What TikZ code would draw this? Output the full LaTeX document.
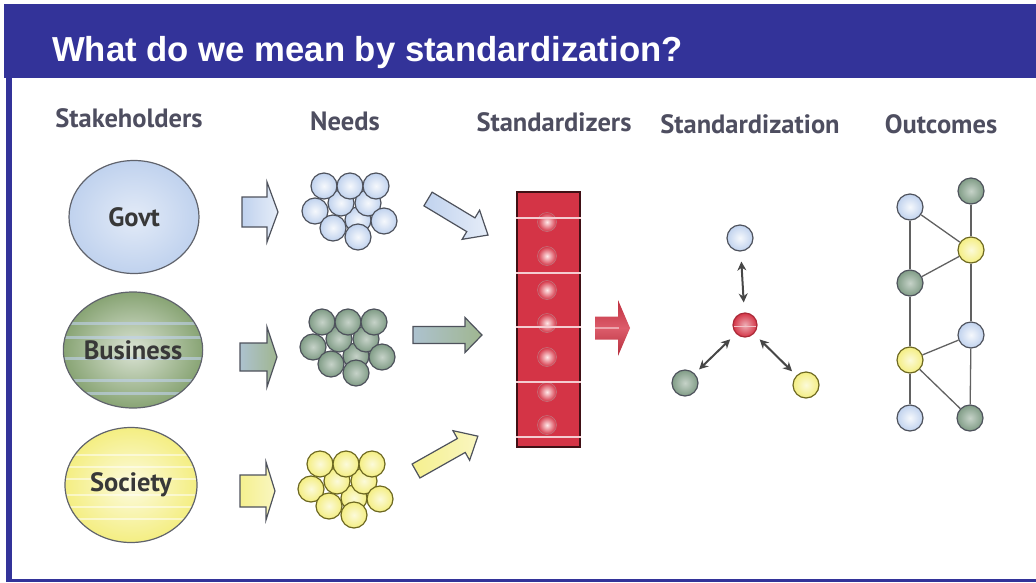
\documentclass[tikz,border=0pt]{standalone}
\usepackage{fontspec}
\setmainfont{Liberation Sans}
\newfontfamily\hfont{PT Sans}
\usetikzlibrary{shapes.geometric,arrows.meta,calc}
\definecolor{band}{RGB}{51,51,153}
\definecolor{hdr}{RGB}{78,78,96}
\definecolor{gblue}{RGB}{192,210,238}
\definecolor{bgreen}{RGB}{128,156,134}
\definecolor{bizgreen}{RGB}{136,164,116}
\definecolor{syellow}{RGB}{244,238,130}
\definecolor{sred}{RGB}{212,52,70}
\definecolor{edgec}{RGB}{78,82,92}
\newcommand\barrow[8]{\path[#1,shift={(#2,#3)},rotate=#4] (0,-#6) -- ({#5-#7},-#6) -- ({#5-#7},-#8) -- (#5,0) -- ({#5-#7},#8) -- ({#5-#7},#6) -- (0,#6) -- cycle;}
\newcommand\needcluster[4]{%
  \foreach \dx/\dy [count=\i] in {8/8,-9/-9,18/-9,-26/-26,0/-26,26/-26,-35/-1,34/9,-17/16,8/25}
    \node[#4] (#1-\i) at ({#2+\dx},{#3+\dy}) {};}
\begin{document}
\begin{tikzpicture}[x=1pt,y=-1pt,
  hdrtext/.style={font=\hfont\bfseries\fontsize{26.5}{30}\selectfont, text=hdr, anchor=base, inner sep=0pt},
  stake/.style={ellipse, draw=edgec!90, line width=1.2pt, inner sep=0pt,
     font=\hfont\bfseries\fontsize{26.5}{30}\selectfont, text=black!78},
  ball/.style={circle, draw=edgec, line width=1.2pt, minimum size=26pt, inner sep=0pt},
  bblue/.style={ball, inner color=white!85!gblue, outer color=gblue},
  bgrn/.style={ball, inner color=bgreen!45!white, outer color=bgreen},
  byel/.style={ball, draw=olive!70!black, inner color=white!70!syellow, outer color=syellow},
  bred/.style={ball, draw=sred!80!black, inner color=sred!40!white, outer color=sred, minimum size=24pt},
  arrowb/.style={draw=edgec, line width=1.2pt, left color=gblue, right color=white!60!gblue},
  arrowg/.style={draw=edgec, line width=1.2pt, left color=gblue!70!bgreen, right color=bizgreen!80!white},
  arrowy/.style={draw=edgec, line width=1.2pt, left color=syellow!90!white, right color=white!50!syellow},
  dbl/.style={{Stealth[length=9pt,width=9pt]}-{Stealth[length=9pt,width=9pt]}, line width=2pt, draw=black!72},
  link/.style={line width=1.3pt, draw=black!62},
  reddot/.style={circle, minimum size=19pt, inner sep=0pt, draw=sred!70!black!60, line width=0.5pt, inner color=white!65!pink, outer color=sred}
]
\useasboundingbox (0,0) rectangle (1036,582);
% frame
\fill[band] (4,4) rectangle (1036,78);
\fill[band] (6,78) rectangle (12,582);
\fill[band] (6,579) rectangle (1036,582);
\node[anchor=base west, inner sep=0pt, text=white, font=\bfseries\fontsize{34.7}{40}\selectfont] (title) at (52,61) {What do we mean by standardization?};
% headers
\node[hdrtext] (h1) at (129,127) {Stakeholders};
\node[hdrtext] (h2) at (345,130) {Needs};
\node[hdrtext] (h3) at (554,131) {Standardizers};
\node[hdrtext] (h4) at (750,133) {Standardization};
\node[hdrtext] (h5) at (941,133) {Outcomes};
% stakeholders
\node[stake, minimum width=130pt, minimum height=113pt, inner color=white!55!gblue, outer color=gblue] (govt) at (134,217) {Govt};
\node[stake, minimum width=129pt, minimum height=116pt, inner color=bizgreen!30!white, outer color=bizgreen,
  path picture={\foreach \d in {-27,-13,8,30,43}
     \draw[gblue, line width=3pt, opacity=0.6] ($(path picture bounding box.center)+(-70,\d)$) -- ++(140,0);}] (bus) at (133,350) {Business};
\node[stake, minimum width=132pt, minimum height=115pt, inner color=white!75!syellow, outer color=syellow,
  path picture={\foreach \d in {-30,-18,-6,10,22,34}
     \draw[white, line width=2.5pt, opacity=0.5] ($(path picture bounding box.center)+(-70,\d)$) -- ++(140,0);}] (soc) at (131,485) {Society};
% small block arrows
\barrow{arrowb}{242}{212}{0}{36}{15}{11}{30}
\barrow{arrowg}{240}{357}{0}{37}{14}{10}{30}
\barrow{arrowy}{240}{491}{0}{35}{16}{9}{29}
% needs clusters
\needcluster{ng}{350}{212}{bblue}
\needcluster{nb}{348}{348}{bgrn}
\needcluster{ns}{346}{490}{byel}
% diagonal block arrows
\barrow{arrowb}{428}{199}{-31}{70}{8}{20}{17}
\barrow{arrowg}{413}{335}{0}{69}{8.5}{17}{17.5}
\barrow{arrowy}{416}{471}{29.4}{71}{8}{19}{17}
% standardizer box
\node[rectangle, draw=black!70!sred, line width=1.2pt, fill=sred, minimum width=63pt, minimum height=255pt, inner sep=0pt] (std) at (548.5,319.5) {};
\foreach \y [count=\i] in {222,256,290,323,357,392,425}
  \node[reddot] (dot\i) at (547,\y) {};
\foreach \y in {218,273,327,382,437}
  \draw[white!75!sred, line width=1.3pt] (std.west |- 0,\y) -- (std.east |- 0,\y);
% red arrow
\barrow{draw=none, top color=sred!90!black, bottom color=sred!85!black, middle color=sred!80!white}{595}{328}{0}{35}{11.5}{12}{28}
\draw[white!55!sred, line width=1.2pt] (595,328) -- (619,328);
% standardization
\node[bred] (c0) at (745,325) {};
\draw[white!70!sred, line width=1pt] ($(c0.west)+(2,1)$) -- ($(c0.east)+(-2,1)$);
\node[bblue] (c1) at (740,238) {};
\node[bgrn] (c2) at (685,383) {};
\node[byel] (c3) at (806,385) {};
\draw[dbl, shorten >=10pt, shorten <=10pt] (c0) -- (c1);
\draw[dbl, shorten >=6pt, shorten <=8pt] (c0) -- (c2);
\draw[dbl, shorten >=6pt, shorten <=8pt] (c0) -- (c3);
% outcomes
\node[bblue] (o1) at (910,207) {};
\node[bgrn]  (o2) at (971,191) {};
\node[byel]  (o3) at (971,250) {};
\node[bgrn]  (o4) at (910,283) {};
\node[bblue] (o5) at (971,335) {};
\node[byel]  (o6) at (910,360) {};
\node[bblue] (o7) at (910,418) {};
\node[bgrn]  (o8) at (970,418) {};
\foreach \a/\b in {o1/o4,o1/o3,o2/o3,o3/o4,o4/o6,o3/o5,o5/o6,o6/o7,o6/o8,o5/o8}
  \draw[link] (\a) -- (\b);
\end{tikzpicture}
\end{document}
